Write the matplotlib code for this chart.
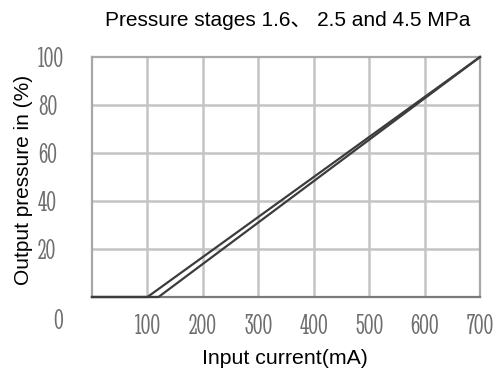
import matplotlib
matplotlib.use('Agg')
import matplotlib.pyplot as plt

# input current (mA) vs output pressure (%)
current_a = [0, 100, 700]
pressure_a = [0, 0, 100]
current_b = [0, 120, 700]
pressure_b = [0, 0, 100]

x_ticks = [100, 200, 300, 400, 500, 600, 700]
y_ticks = [20, 40, 60, 80, 100]

title = 'Pressure stages 1.6、 2.5 and 4.5 MPa'
xlabel = 'Input current(mA)'
ylabel = 'Output pressure in (%)'

grid_col = '#c4c4c4'
tick_col = '#6e6e6e'
line_col = '#3c3c3c'
tick_font = ['Stint Ultra Condensed', 'DejaVu Sans']
text_font = ['Liberation Sans', 'Noto Sans CJK SC', 'DejaVu Sans']

fig = plt.figure(figsize=(5.01, 3.73), dpi=100)
ax = fig.add_axes([92 / 501, 76 / 373, 388 / 501, 240 / 373])

ax.set_xlim(0, 700)
ax.set_ylim(0, 100)

for x in x_ticks[:-1]:
    ax.axvline(x, color=grid_col, lw=1.8, zorder=1)
for y in y_ticks[:-1]:
    ax.axhline(y, color=grid_col, lw=1.8, zorder=1)

for s in ax.spines.values():
    s.set_color('#a8a8a8')
    s.set_linewidth(1.6)
ax.spines['bottom'].set_color('#7a7a7a')

ax.plot(current_a, pressure_a, color=line_col, lw=1.6, zorder=3, clip_on=False)
ax.plot(current_b, pressure_b, color=line_col, lw=1.6, zorder=3, clip_on=False)

ax.set_xticks(x_ticks)
ax.set_yticks(y_ticks)
ax.tick_params(length=0)
ax.tick_params(axis='x', pad=12)
ax.tick_params(axis='y', pad=39)
for lab in ax.get_xticklabels() + ax.get_yticklabels():
    lab.set_family(tick_font)
    lab.set_fontsize(21)
    lab.set_color(tick_col)
for lab in ax.get_yticklabels():
    lab.set_ha('left')

# origin label sits on the x label row
ax.annotate('0', xy=(0, 0), xycoords='axes fraction', xytext=(-39, -12),
            textcoords='offset pixels', ha='left', va='top',
            family=tick_font, fontsize=21, color=tick_col)

fig.text(288 / 501, 1 - 20 / 373, title, ha='center', va='center',
         family=text_font, fontsize=15)
fig.text(285 / 501, 1 - 359 / 373, xlabel, ha='center', va='center',
         family=text_font, fontsize=15.3)
fig.text(24 / 501, 1 - 180 / 373, ylabel, ha='center', va='center',
         rotation=90, family=text_font, fontsize=15)

fig.savefig('out.png', dpi=100)
